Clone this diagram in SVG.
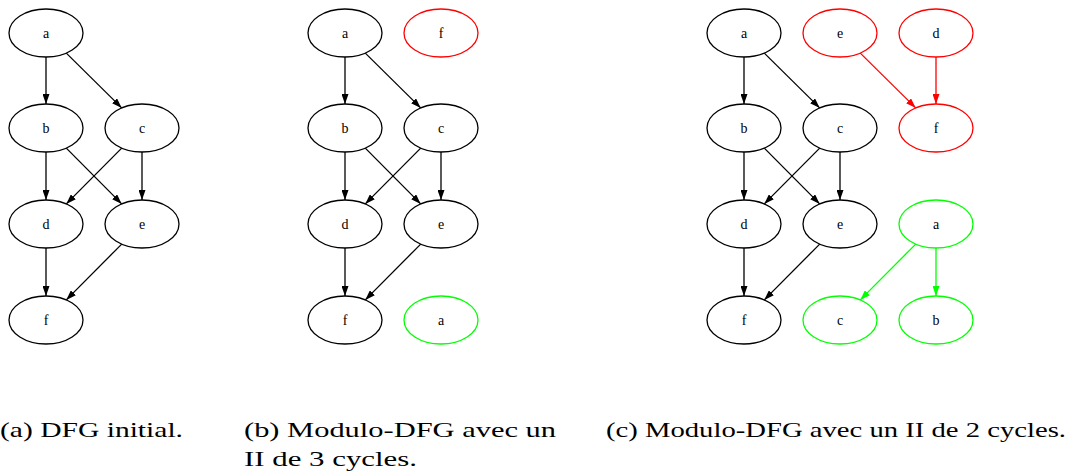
<svg xmlns="http://www.w3.org/2000/svg" width="1070" height="475" viewBox="0 0 1070 475">
<style>
.n ellipse{fill:#fff;stroke:#000;stroke-width:1.3}
.n text{font-family:"Liberation Serif",serif;font-size:14px;text-anchor:middle;fill:#000}
.red ellipse{stroke:#ff0000}
.grn ellipse{stroke:#00ff00}
.e line{stroke-width:1.3;fill:none}
.k{stroke:#000;marker-end:url(#ak)}
.r{stroke:#ff0000;marker-end:url(#ar)}
.g{stroke:#00ff00;marker-end:url(#ag)}
.cap{font-family:"Liberation Serif",serif;font-size:22px;fill:#000}
</style>
<defs>
<marker id="ak" viewBox="0 0 10 7" refX="10" refY="3.5" markerWidth="10" markerHeight="7" markerUnits="userSpaceOnUse" orient="auto"><path d="M0,0 L10,3.5 L0,7 z" fill="#000"/></marker>
<marker id="ar" viewBox="0 0 10 7" refX="10" refY="3.5" markerWidth="10" markerHeight="7" markerUnits="userSpaceOnUse" orient="auto"><path d="M0,0 L10,3.5 L0,7 z" fill="#ff0000"/></marker>
<marker id="ag" viewBox="0 0 10 7" refX="10" refY="3.5" markerWidth="10" markerHeight="7" markerUnits="userSpaceOnUse" orient="auto"><path d="M0,0 L10,3.5 L0,7 z" fill="#00ff00"/></marker>
</defs>
<g id="connectors" class="e">
<line class="k" x1="46" y1="57" x2="46" y2="104"/>
<line class="k" x1="66.3" y1="53.1" x2="121.7" y2="107.9"/>
<line class="k" x1="46" y1="152" x2="46" y2="200"/>
<line class="k" x1="66.3" y1="148.1" x2="121.7" y2="203.9"/>
<line class="k" x1="121.7" y1="148.1" x2="66.3" y2="203.9"/>
<line class="k" x1="142" y1="152" x2="142" y2="200"/>
<line class="k" x1="46" y1="248" x2="46" y2="296"/>
<line class="k" x1="121.7" y1="244.1" x2="66.3" y2="299.9"/>
<line class="k" x1="345" y1="57" x2="345" y2="104"/>
<line class="k" x1="365.3" y1="53.1" x2="420.7" y2="107.9"/>
<line class="k" x1="345" y1="152" x2="345" y2="200"/>
<line class="k" x1="365.3" y1="148.1" x2="420.7" y2="203.9"/>
<line class="k" x1="420.7" y1="148.1" x2="365.3" y2="203.9"/>
<line class="k" x1="441" y1="152" x2="441" y2="200"/>
<line class="k" x1="345" y1="248" x2="345" y2="296"/>
<line class="k" x1="420.7" y1="244.1" x2="365.3" y2="299.9"/>
<line class="k" x1="744" y1="57" x2="744" y2="104"/>
<line class="k" x1="764.3" y1="53.1" x2="819.7" y2="107.9"/>
<line class="k" x1="744" y1="152" x2="744" y2="200"/>
<line class="k" x1="764.3" y1="148.1" x2="819.7" y2="203.9"/>
<line class="k" x1="819.7" y1="148.1" x2="764.3" y2="203.9"/>
<line class="k" x1="840" y1="152" x2="840" y2="200"/>
<line class="k" x1="744" y1="248" x2="744" y2="296"/>
<line class="k" x1="819.7" y1="244.1" x2="764.3" y2="299.9"/>
<line class="r" x1="860.3" y1="53.1" x2="915.7" y2="107.9"/>
<line class="r" x1="936" y1="57" x2="936" y2="104"/>
<line class="g" x1="915.7" y1="244.1" x2="860.3" y2="299.9"/>
<line class="g" x1="936" y1="248" x2="936" y2="296"/>
</g>
<g id="a_a" class="n"><ellipse cx="46" cy="33" rx="37" ry="24"/><text x="46" y="38">a</text></g>
<g id="a_b" class="n"><ellipse cx="46" cy="128" rx="37" ry="24"/><text x="46" y="133">b</text></g>
<g id="a_c" class="n"><ellipse cx="142" cy="128" rx="37" ry="24"/><text x="142" y="133">c</text></g>
<g id="a_d" class="n"><ellipse cx="46" cy="224" rx="37" ry="24"/><text x="46" y="229">d</text></g>
<g id="a_e" class="n"><ellipse cx="142" cy="224" rx="37" ry="24"/><text x="142" y="229">e</text></g>
<g id="a_f" class="n"><ellipse cx="46" cy="320" rx="37" ry="24"/><text x="46" y="325">f</text></g>
<g id="b_a" class="n"><ellipse cx="345" cy="33" rx="37" ry="24"/><text x="345" y="38">a</text></g>
<g id="b_f2" class="n red"><ellipse cx="441" cy="33" rx="37" ry="24"/><text x="441" y="38">f</text></g>
<g id="b_b" class="n"><ellipse cx="345" cy="128" rx="37" ry="24"/><text x="345" y="133">b</text></g>
<g id="b_c" class="n"><ellipse cx="441" cy="128" rx="37" ry="24"/><text x="441" y="133">c</text></g>
<g id="b_d" class="n"><ellipse cx="345" cy="224" rx="37" ry="24"/><text x="345" y="229">d</text></g>
<g id="b_e" class="n"><ellipse cx="441" cy="224" rx="37" ry="24"/><text x="441" y="229">e</text></g>
<g id="b_f" class="n"><ellipse cx="345" cy="320" rx="37" ry="24"/><text x="345" y="325">f</text></g>
<g id="b_a2" class="n grn"><ellipse cx="441" cy="320" rx="37" ry="24"/><text x="441" y="325">a</text></g>
<g id="c_a" class="n"><ellipse cx="744" cy="33" rx="37" ry="24"/><text x="744" y="38">a</text></g>
<g id="c_e2" class="n red"><ellipse cx="840" cy="33" rx="37" ry="24"/><text x="840" y="38">e</text></g>
<g id="c_d2" class="n red"><ellipse cx="936" cy="33" rx="37" ry="24"/><text x="936" y="38">d</text></g>
<g id="c_b" class="n"><ellipse cx="744" cy="128" rx="37" ry="24"/><text x="744" y="133">b</text></g>
<g id="c_c" class="n"><ellipse cx="840" cy="128" rx="37" ry="24"/><text x="840" y="133">c</text></g>
<g id="c_f2" class="n red"><ellipse cx="936" cy="128" rx="37" ry="24"/><text x="936" y="133">f</text></g>
<g id="c_d" class="n"><ellipse cx="744" cy="224" rx="37" ry="24"/><text x="744" y="229">d</text></g>
<g id="c_e" class="n"><ellipse cx="840" cy="224" rx="37" ry="24"/><text x="840" y="229">e</text></g>
<g id="c_a2" class="n grn"><ellipse cx="936" cy="224" rx="37" ry="24"/><text x="936" y="229">a</text></g>
<g id="c_f" class="n"><ellipse cx="744" cy="320" rx="37" ry="24"/><text x="744" y="325">f</text></g>
<g id="c_c2" class="n grn"><ellipse cx="840" cy="320" rx="37" ry="24"/><text x="840" y="325">c</text></g>
<g id="c_b2" class="n grn"><ellipse cx="936" cy="320" rx="37" ry="24"/><text x="936" y="325">b</text></g>
<text class="cap" x="0" y="437" textLength="183" lengthAdjust="spacingAndGlyphs">(a) DFG initial.</text>
<text class="cap" x="244" y="437" textLength="312" lengthAdjust="spacingAndGlyphs">(b) Modulo-DFG avec un</text>
<text class="cap" x="244" y="466" textLength="173" lengthAdjust="spacingAndGlyphs">II de 3 cycles.</text>
<text class="cap" x="606" y="437" textLength="460" lengthAdjust="spacingAndGlyphs">(c) Modulo-DFG avec un II de 2 cycles.</text>
</svg>
